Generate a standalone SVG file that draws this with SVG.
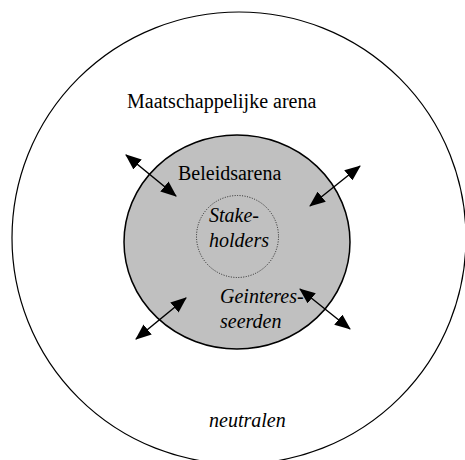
<svg xmlns="http://www.w3.org/2000/svg" width="465" height="460" viewBox="0 0 465 460">
<style>
text{font-family:'Liberation Serif','Times New Roman',Times,serif;font-size:20px;fill:#000}
.i{font-style:italic}
</style>
<defs>
<marker id="ah" viewBox="0 0 16 13" refX="15" refY="6.5" markerWidth="16" markerHeight="13" markerUnits="userSpaceOnUse" orient="auto-start-reverse">
<path d="M0,0 L16,6.5 L0,13 Z" fill="#000"/>
</marker>
</defs>
<rect width="465" height="460" fill="#fff"/>
<g id="maatschappelijke-arena">
<ellipse cx="239" cy="238" rx="227" ry="226" fill="#fff" stroke="#000" stroke-width="1.2"/>
<text x="127" y="108" font-family="Liberation Serif, serif">Maatschappelijke arena</text>
<text class="i" x="209" y="427" font-family="Liberation Serif, serif">neutralen</text>
</g>
<g id="beleidsarena">
<ellipse cx="237" cy="242" rx="113" ry="107" fill="#c0c0c0" stroke="#000" stroke-width="1.5"/>
<text x="178" y="180" font-family="Liberation Serif, serif">Beleidsarena</text>
<text class="i" x="220" y="303" font-family="Liberation Serif, serif">Geinteres-</text>
<text class="i" x="220" y="328" font-family="Liberation Serif, serif">seerden</text>
</g>
<g id="stakeholders">
<circle cx="237.5" cy="236.5" r="41" fill="none" stroke="#000" stroke-width="0.8" stroke-dasharray="1,1.5"/>
<text class="i" x="209" y="222" font-family="Liberation Serif, serif">Stake-</text>
<text class="i" x="209" y="247" font-family="Liberation Serif, serif">holders</text>
</g>
<g id="connectors" stroke="#000" stroke-width="1.5" fill="none">
<line x1="126" y1="155" x2="176" y2="196" marker-start="url(#ah)" marker-end="url(#ah)"/>
<line x1="360" y1="166" x2="310" y2="206" marker-start="url(#ah)" marker-end="url(#ah)"/>
<line x1="136" y1="339" x2="186" y2="298" marker-start="url(#ah)" marker-end="url(#ah)"/>
<line x1="300" y1="289" x2="350" y2="329" marker-start="url(#ah)" marker-end="url(#ah)"/>
</g>
</svg>
